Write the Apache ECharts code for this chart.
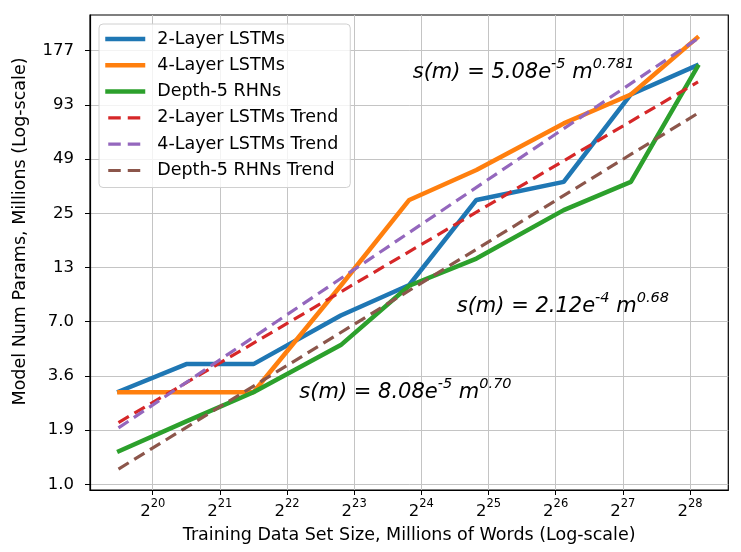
<!DOCTYPE html>
<html>
<head>
<meta charset="utf-8">
<script src="https://cdn.jsdelivr.net/npm/echarts@6.0.0/dist/echarts.min.js"></script>
<style>
    html, body {margin:0;padding:0;background:#fff;}
    #chart {width:741px;height:552px;}
</style>
</head>
<body>
<div id="chart"></div>
<script>
// x = log2 of training set size, y = params in millions
var xExp = [19.47, 20.5, 21.5, 22.8, 23.82, 24.82, 26.12, 27.12, 28.13];
var lstm2 = [3.0, 4.2, 4.2, 7.5, 10.8, 29.8, 37.0, 105, 150];
var lstm4 = [3.0, 3.0, 3.0, 10.7, 29.8, 42.6, 74.3, 105, 210];
var rhn5 = [1.47, 2.12, 3.0, 5.27, 10.7, 14.8, 26.4, 37.0, 150];

var trendX = [19.49, 28.12];
var trend2 = [2.09, 122];
var trend4 = [1.96, 205];
var trend5 = [1.20, 84];

var xTicks = [20, 21, 22, 23, 24, 25, 26, 27, 28];
var yTickLabels = ['1.0', '1.9', '3.6', '7.0', '13', '25', '49', '93', '177'];

var names = ['2-Layer LSTMs', '4-Layer LSTMs', 'Depth-5 RHNs',
    '2-Layer LSTMs Trend', '4-Layer LSTMs Trend', 'Depth-5 RHNs Trend'];
var colors = ['#1f77b4', '#ff7f0e', '#2ca02c', '#d62728', '#9467bd', '#8c564b'];

// y axis is drawn in units of log base r, r = 177^(1/8) (evenly spaced ticks)
var LOG_R = Math.log(177) / 8;
function toK(v) { return Math.log(v) / LOG_R; }
function pairs(xs, ys) {
    return xs.map(function (x, i) { return [x, toK(ys[i])]; });
}

var font = 'DejaVu Sans';

function solid(i, data) {
    return {
        name: names[i], type: 'line', data: data, symbol: 'none',
        lineStyle: {width: 4.5, color: colors[i], cap: 'butt'},
        itemStyle: {color: colors[i]}
    };
}
function dashed(i, data) {
    return {
        name: names[i], type: 'line', data: data, symbol: 'none',
        lineStyle: {width: 3.2, color: colors[i], type: [12, 6.5]},
        itemStyle: {color: colors[i]}
    };
}

// legend: two dashes per trend icon, like the original
var legendData = names.map(function (n, i) {
    if (i < 3) return {name: n};
    return {name: n, lineStyle: {type: [12.5, 7], dashOffset: 16.5}};
});

function formula(main, e1, e2) {
    return '{m|s(m) = ' + main + 'e}{s|' + e1 + '}{m| m}{s|' + e2 + '}';
}
var formulaRich = {
    m: {fontSize: 21, fontStyle: 'italic', fontFamily: font, fill: '#000', lineHeight: 27, verticalAlign: 'bottom'},
    s: {fontSize: 14.5, fontStyle: 'italic', fontFamily: font, fill: '#000', lineHeight: 14.5, verticalAlign: 'top'}
};

var chart = echarts.init(document.getElementById('chart'));
chart.setOption({
    animation: false,
    backgroundColor: '#fff',
    textStyle: {fontFamily: font, color: '#000'},
    grid: {
        left: 90, right: 12.7, top: 15, bottom: 62,
        show: true, borderColor: '#000', borderWidth: 1.2,
        containLabel: false, outerBoundsMode: 'none'
    },
    legend: {
        orient: 'vertical', left: 99, top: 24,
        data: legendData,
        itemWidth: 40, itemHeight: 18, itemGap: 8.3,
        padding: [6, 12, 8, 4],
        backgroundColor: 'rgba(255,255,255,0.8)',
        borderColor: '#d0d0d0', borderWidth: 1, borderRadius: 4,
        lineStyle: {width: 'inherit'},
        itemStyle: {opacity: 0},
        textStyle: {fontSize: 17.5, fontFamily: font, color: '#000', lineHeight: 18, padding: [0, 0, 0, 7]}
    },
    xAxis: {
        type: 'value', min: 19.066, max: 28.571,
        name: 'Training Data Set Size, Millions of Words (Log-scale)',
        nameLocation: 'middle', nameGap: 36,
        nameTextStyle: {fontSize: 17.5, fontFamily: font, color: '#000'},
        axisLine: {show: true, onZero: false, lineStyle: {color: '#000', width: 1.2}},
        axisTick: {show: true, inside: false, length: 5, customValues: xTicks, lineStyle: {color: '#000', width: 1}},
        axisLabel: {
            customValues: xTicks, margin: 8,
            formatter: function (v) { return '{b|2}{s|' + v + '}'; },
            rich: {
                b: {fontSize: 16.5, fontFamily: font, color: '#000', lineHeight: 22, verticalAlign: 'bottom'},
                s: {fontSize: 11.5, fontFamily: font, color: '#000', lineHeight: 12, verticalAlign: 'top'}
            }
        },
        splitLine: {show: true, lineStyle: {color: '#c4c4c4', width: 1}}
    },
    yAxis: {
        type: 'value', min: -0.105, max: 8.659,
        name: 'Model Num Params, Millions (Log-scale)',
        nameLocation: 'middle', nameGap: 61, nameRotate: 90,
        nameTextStyle: {fontSize: 17.5, fontFamily: font, color: '#000', padding: [0, 0, 0, 42]},
        axisLine: {show: true, onZero: false, lineStyle: {color: '#000', width: 1.2}},
        axisTick: {show: true, inside: false, length: 5, customValues: [0, 1, 2, 3, 4, 5, 6, 7, 8], lineStyle: {color: '#000', width: 1}},
        axisLabel: {
            customValues: [0, 1, 2, 3, 4, 5, 6, 7, 8], margin: 16,
            fontSize: 16.5, fontFamily: font, color: '#000',
            formatter: function (v) { return yTickLabels[Math.round(v)]; }
        },
        splitLine: {show: true, lineStyle: {color: '#c4c4c4', width: 1}}
    },
    graphic: [
        {type: 'text', x: 412.7, y: 70, z: 100,
            style: {text: formula('5.08', '-5', '0.781'), rich: formulaRich, verticalAlign: 'middle', fill: '#000'}},
        {type: 'text', x: 456.7, y: 304, z: 100,
            style: {text: formula('2.12', '-4', '0.68'), rich: formulaRich, verticalAlign: 'middle', fill: '#000'}},
        {type: 'text', x: 299.3, y: 390, z: 100,
            style: {text: formula('8.08', '-5', '0.70'), rich: formulaRich, verticalAlign: 'middle', fill: '#000'}}
    ],
    series: [
        solid(0, pairs(xExp, lstm2)),
        solid(1, pairs(xExp, lstm4)),
        solid(2, pairs(xExp, rhn5)),
        dashed(3, pairs(trendX, trend2)),
        dashed(4, pairs(trendX, trend4)),
        dashed(5, pairs(trendX, trend5))
    ]
});
</script>
</body>
</html>
